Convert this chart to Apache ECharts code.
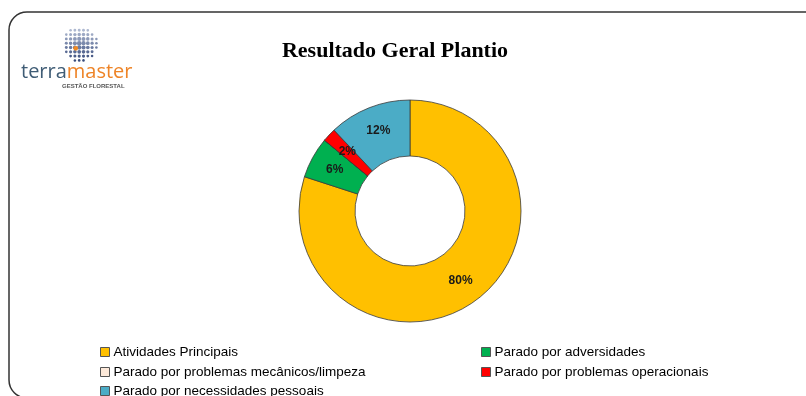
<!DOCTYPE html>
<html>
<head>
<meta charset="utf-8">
<script src="https://cdn.jsdelivr.net/npm/echarts@6/dist/echarts.min.js"></script>
<style>
html,body{margin:0;padding:0;background:#fff;}
#c{width:806px;height:396px;}
</style>
</head>
<body>
<div id="c"></div>
<script>
const categories = [
  'Atividades Principais',
  'Parado por adversidades',
  'Parado por problemas mecânicos/limpeza',
  'Parado por problemas operacionais',
  'Parado por necessidades pessoais'
];
const values = [80, 6, 0, 2, 12];
const colors = ['#FFC000', '#00B050', '#FDE9D9', '#FF0000', '#4BACC6'];
const legendSlots = [
  {name: categories[0], left: 100, top: 345},
  {name: categories[1], left: 481, top: 345},
  {name: categories[2], left: 100, top: 365},
  {name: categories[3], left: 481, top: 365},
  {name: categories[4], left: 100, top: 384}
];

const chart = echarts.init(document.getElementById('c'), null, {renderer: 'canvas'});

// logo globe dots
const globe = [];
const gcx = 80, gcy = 44, gr = 18;
for (let yy = -gr; yy <= gr; yy += 4.3) {
  for (let xx = -gr; xx <= gr; xx += 4.3) {
    const d = Math.sqrt(xx * xx + yy * yy);
    if (d > gr - 0.5) continue;
    const t = (yy + gr) / (2 * gr);
    const size = 2.4 * (1 - 0.5 * d / gr);
    const c1 = Math.round(190 - 140 * t), c2 = Math.round(200 - 130 * t), c3 = Math.round(220 - 100 * t);
    globe.push({
      type: 'circle',
      shape: {cx: gcx + xx, cy: gcy + yy, r: size},
      style: {fill: 'rgb(' + c1 + ',' + c2 + ',' + c3 + ')'}
    });
  }
}
globe.push({type: 'circle', shape: {cx: 75.7, cy: 48.3, r: 2.4}, style: {fill: '#F08A24'}});

const legendStyle = {
  orient: 'horizontal', padding: 0,
  icon: 'rect', itemWidth: 9, itemHeight: 9,
  itemStyle: {borderColor: '#555', borderWidth: 1},
  textStyle: {fontFamily: 'Liberation Sans', fontSize: 13.5, color: '#000', padding: [0, 0, 0, -1]}
};

chart.setOption({
  backgroundColor: '#fff',
  animation: false,
  color: colors,
  title: {
    text: 'Resultado Geral Plantio',
    left: 395,
    top: 40,
    padding: 0,
    textAlign: 'center',
    textStyle: {fontFamily: 'Liberation Serif', fontWeight: 'bold', fontSize: 22, color: '#000'}
  },
  graphic: [
    {
      type: 'rect',
      shape: {x: 9, y: 12, width: 830, height: 386, r: 18},
      style: {fill: 'none', stroke: '#333', lineWidth: 1.5},
      z: 0
    },
    {type: 'group', children: globe},
    {
      type: 'text', left: 21, top: 62,
      style: {
        text: '{a|terra}{b|master}',
        rich: {
          a: {fontFamily: 'Open Sans', fontSize: 20, fill: '#3F5C75', fontWeight: 'normal'},
          b: {fontFamily: 'Open Sans', fontSize: 20, fill: '#EE8427', fontWeight: 'normal'}
        }
      }
    },
    {
      type: 'text', left: 62, top: 83,
      style: {text: 'GESTÃO FLORESTAL', fontFamily: 'Liberation Sans', fontSize: 6, fontWeight: 'bold', fill: '#555'}
    }
  ],
  legend: legendSlots.map(s => Object.assign({}, legendStyle, {left: s.left, top: s.top, data: [s.name]})),
  series: [{
    type: 'pie',
    center: [410, 211],
    radius: [55, 111],
    startAngle: 90,
    clockwise: true,
    avoidLabelOverlap: false,
    itemStyle: {borderColor: '#3a3a3a', borderWidth: 0.8},
    label: {
      show: true,
      position: 'inside',
      formatter: p => p.value > 0 ? p.value + '%' : '',
      fontFamily: 'Liberation Sans',
      fontWeight: 'bold',
      fontSize: 12,
      color: '#1a1a1a'
    },
    labelLine: {show: false},
    emphasis: {disabled: true},
    data: categories.map((n, i) => ({name: n, value: values[i]}))
  }]
});
</script>
</body>
</html>
